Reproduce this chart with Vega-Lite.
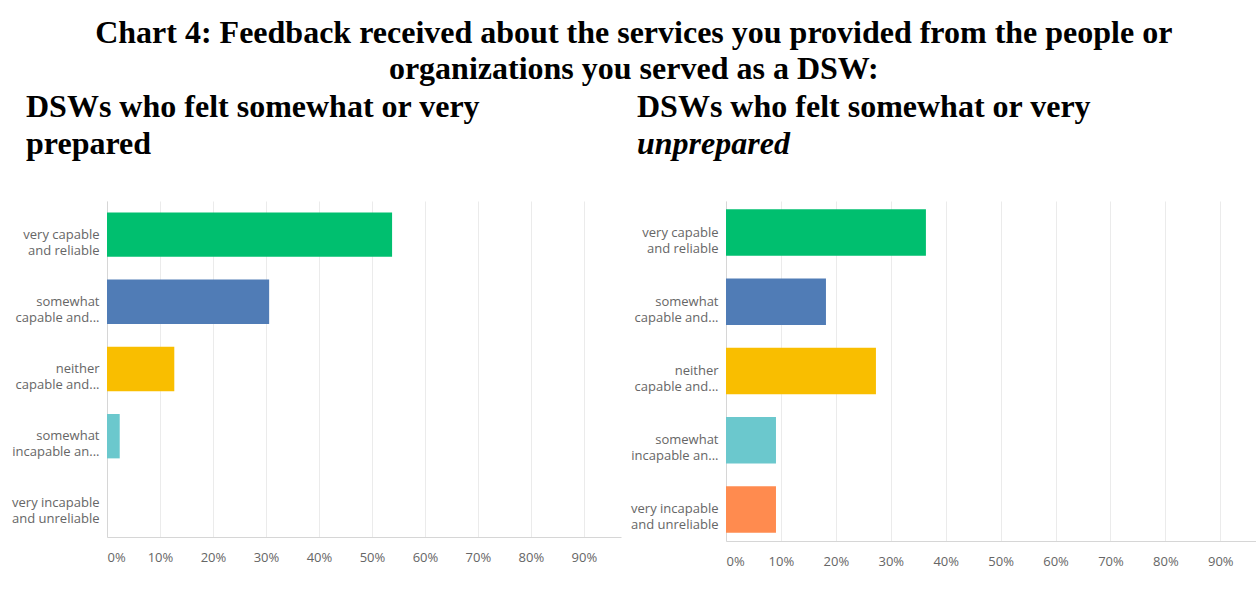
{
  "$schema": "https://vega.github.io/schema/vega-lite/v6.json",
  "background": "white",
  "padding": {"left": 11, "top": 17, "right": 0, "bottom": 0},
  "title": {
    "text": ["Chart 4: Feedback received about the services you provided from the people or", "organizations you served as a DSW:"],
    "font": "Liberation Serif",
    "fontSize": 32,
    "fontWeight": "bold",
    "color": "black",
    "anchor": "middle",
    "lineHeight": 36,
    "offset": 5
  },
  "datasets": {
    "prepared": [
      {"response": "very capable and reliable", "share": 0.538},
      {"response": "somewhat capable and reliable", "share": 0.306},
      {"response": "neither capable and reliable nor incapable and unreliable", "share": 0.127},
      {"response": "somewhat incapable and unreliable", "share": 0.024},
      {"response": "very incapable and unreliable", "share": 0.0}
    ],
    "unprepared": [
      {"response": "very capable and reliable", "share": 0.364},
      {"response": "somewhat capable and reliable", "share": 0.182},
      {"response": "neither capable and reliable nor incapable and unreliable", "share": 0.273},
      {"response": "somewhat incapable and unreliable", "share": 0.091},
      {"response": "very incapable and unreliable", "share": 0.091}
    ]
  },
  "spacing": 105,
  "bounds": "flush",
  "hconcat": [
    {
      "width": 514,
      "height": 336,
      "title": {
        "text": "DSWs who felt somewhat or very",
        "subtitle": "prepared",
        "anchor": "start",
        "frame": "group",
        "dx": -81,
        "font": "Liberation Serif",
        "fontSize": 32,
        "fontWeight": "bold",
        "color": "black",
        "subtitleFont": "Liberation Serif",
        "subtitleFontSize": 32,
        "subtitleFontWeight": "bold",
        "subtitleColor": "black",
        "subtitlePadding": 5,
        "offset": 40
      },
      "data": {"name": "prepared"},
      "mark": {"type": "bar"},
      "encoding": {
        "y": {
          "field": "response",
          "type": "nominal",
          "sort": ["very capable and reliable", "somewhat capable and reliable", "neither capable and reliable nor incapable and unreliable", "somewhat incapable and unreliable", "very incapable and unreliable"],
          "scale": {"paddingInner": 0.34, "paddingOuter": 0.17},
          "axis": {
            "title": null,
            "ticks": false,
            "grid": false,
            "domainColor": "#d6d6d6",
            "labelFont": "Open Sans",
            "labelFontSize": 13,
            "labelColor": "#666666",
            "labelPadding": 8,
            "labelLimit": 0,
            "labelLineHeight": 16,
            "labelExpr": "datum.value == 'very capable and reliable' ? ['very capable', 'and reliable'] : datum.value == 'somewhat capable and reliable' ? ['somewhat', 'capable and...'] : datum.value == 'somewhat incapable and unreliable' ? ['somewhat', 'incapable an...'] : datum.value == 'very incapable and unreliable' ? ['very incapable', 'and unreliable'] : ['neither', 'capable and...']"
          }
        },
        "x": {
          "field": "share",
          "type": "quantitative",
          "scale": {"domain": [0, 0.97], "nice": false},
          "axis": {
            "title": null,
            "values": [0, 0.1, 0.2, 0.3, 0.4, 0.5, 0.6, 0.7, 0.8, 0.9],
            "format": ".0%",
            "ticks": false,
            "grid": true,
            "gridColor": "#ebebeb",
            "domainColor": "#d6d6d6",
            "labelFont": "Open Sans",
            "labelFontSize": 13,
            "labelColor": "#666666",
            "labelPadding": 14,
            "labelFlush": true
          }
        },
        "color": {
          "field": "response",
          "type": "nominal",
          "scale": {
            "domain": ["very capable and reliable", "somewhat capable and reliable", "neither capable and reliable nor incapable and unreliable", "somewhat incapable and unreliable", "very incapable and unreliable"],
            "range": ["#00bf6f", "#507cb6", "#f9be00", "#6bc8cd", "#ff8b4f"]
          },
          "legend": null
        }
      }
    },
    {
      "width": 530,
      "height": 340,
      "title": {
        "text": "DSWs who felt somewhat or very",
        "subtitle": "unprepared",
        "anchor": "start",
        "frame": "group",
        "dx": -89,
        "font": "Liberation Serif",
        "fontSize": 32,
        "fontWeight": "bold",
        "color": "black",
        "subtitleFont": "Liberation Serif",
        "subtitleFontSize": 32,
        "subtitleFontWeight": "bold",
        "subtitleFontStyle": "italic",
        "subtitleColor": "black",
        "subtitlePadding": 5,
        "offset": 40
      },
      "data": {"name": "unprepared"},
      "mark": {"type": "bar"},
      "encoding": {
        "y": {
          "field": "response",
          "type": "nominal",
          "sort": ["very capable and reliable", "somewhat capable and reliable", "neither capable and reliable nor incapable and unreliable", "somewhat incapable and unreliable", "very incapable and unreliable"],
          "scale": {"paddingInner": 0.33, "paddingOuter": 0.12},
          "axis": {
            "title": null,
            "ticks": false,
            "grid": false,
            "domainColor": "#d6d6d6",
            "labelFont": "Open Sans",
            "labelFontSize": 13,
            "labelColor": "#666666",
            "labelPadding": 8,
            "labelLimit": 0,
            "labelLineHeight": 16,
            "labelExpr": "datum.value == 'very capable and reliable' ? ['very capable', 'and reliable'] : datum.value == 'somewhat capable and reliable' ? ['somewhat', 'capable and...'] : datum.value == 'somewhat incapable and unreliable' ? ['somewhat', 'incapable an...'] : datum.value == 'very incapable and unreliable' ? ['very incapable', 'and unreliable'] : ['neither', 'capable and...']"
          }
        },
        "x": {
          "field": "share",
          "type": "quantitative",
          "scale": {"domain": [0, 0.965], "nice": false},
          "axis": {
            "title": null,
            "values": [0, 0.1, 0.2, 0.3, 0.4, 0.5, 0.6, 0.7, 0.8, 0.9],
            "format": ".0%",
            "ticks": false,
            "grid": true,
            "gridColor": "#ebebeb",
            "domainColor": "#d6d6d6",
            "labelFont": "Open Sans",
            "labelFontSize": 13,
            "labelColor": "#666666",
            "labelPadding": 14,
            "labelFlush": true
          }
        },
        "color": {
          "field": "response",
          "type": "nominal",
          "scale": {
            "domain": ["very capable and reliable", "somewhat capable and reliable", "neither capable and reliable nor incapable and unreliable", "somewhat incapable and unreliable", "very incapable and unreliable"],
            "range": ["#00bf6f", "#507cb6", "#f9be00", "#6bc8cd", "#ff8b4f"]
          },
          "legend": null
        }
      }
    }
  ],
  "config": {
    "view": {"stroke": null}
  }
}
